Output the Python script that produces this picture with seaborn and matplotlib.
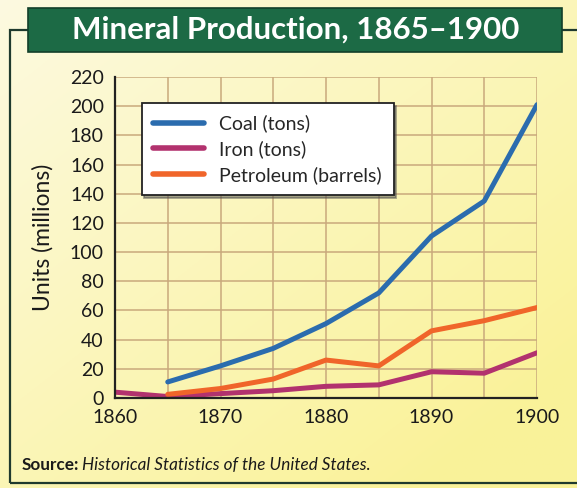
import numpy as np
import pandas as pd
import matplotlib.pyplot as plt
import matplotlib.patches as mpatches
import seaborn as sns

YEARS = [1860, 1865, 1870, 1875, 1880, 1885, 1890, 1895, 1900]
COAL = [np.nan, 11, 22, 34, 51, 72, 111, 135, 201]
IRON = [4, 1, 3, 5, 8, 9, 18, 17, 31]
PETROLEUM = [np.nan, 2.5, 6.5, 13, 26, 22, 46, 53, 62]

SERIES = ["Coal (tons)", "Iron (tons)", "Petroleum (barrels)"]
PALETTE = {
    "Coal (tons)": "#2b6cae",
    "Iron (tons)": "#b2326e",
    "Petroleum (barrels)": "#f0652a",
}
Y_TICKS = list(range(0, 221, 20))
X_TICKS = [1860, 1870, 1880, 1890, 1900]

df = pd.DataFrame({"year": YEARS, SERIES[0]: COAL, SERIES[1]: IRON, SERIES[2]: PETROLEUM})
long = df.melt(id_vars="year", var_name="series", value_name="units").dropna()

sns.set_theme(style="white")
plt.rcParams["font.family"] = ["Lato", "DejaVu Sans"]

fig = plt.figure(figsize=(5.77, 4.88), dpi=100)
W, H = 577, 488

# page background: cream to yellow gradient
bg = fig.add_axes([0, 0, 1, 1], zorder=-10)
grad = np.linspace(0, 1, 256)
gx, gy = np.meshgrid(grad, grad)
t = np.clip(0.55 * gx + 0.6 * gy, 0, 1)
c0 = np.array([0.99, 0.98, 0.88])
c1 = np.array([0.98, 0.95, 0.60])
img = c0[None, None, :] * (1 - t[..., None]) + c1[None, None, :] * t[..., None]
bg.imshow(img, extent=[0, 1, 0, 1], aspect="auto", origin="upper")
bg.set_axis_off()

# outer frame
fig.add_artist(mpatches.Rectangle((10 / W, 5 / H), 580 / W, 453 / H,
                                  transform=fig.transFigure, fill=False,
                                  edgecolor="#1f3a2e", lw=1.6))

# title banner
fig.add_artist(mpatches.Rectangle((28 / W, (H - 52) / H), 534 / W, 44 / H,
                                  transform=fig.transFigure, facecolor="#1c6a45",
                                  edgecolor="#123f2a", lw=1.2))
fig.text(296 / W, (H - 30) / H, "Mineral Production, 1865\u20131900", color="white",
         fontsize=22.5, fontweight="bold", ha="center", va="center")

ax = fig.add_axes([115 / W, (H - 398) / H, 422 / W, 321 / H])
ax.set_facecolor("none")
sns.lineplot(data=long, x="year", y="units", hue="series", hue_order=SERIES,
             palette=PALETTE, lw=3.6, ax=ax, legend=True)

ax.set_xlim(1860, 1900)
ax.set_ylim(0, 220)
ax.set_xticks(np.arange(1860, 1901, 5))
ax.set_xticklabels([str(y) if y in X_TICKS else "" for y in range(1860, 1901, 5)])
ax.set_yticks(Y_TICKS)
ax.grid(True, color="#c9a97c", lw=1.1)
for s in ["top", "right"]:
    ax.spines[s].set_visible(False)
for s in ["left", "bottom"]:
    ax.spines[s].set_color("#222222")
    ax.spines[s].set_linewidth(1.6)
ax.tick_params(axis="both", labelsize=14, colors="#1a1a1a", length=0, pad=8)
ax.set_xlabel("")
ax.set_ylabel("Units (millions)", fontsize=16.5, color="#1a1a1a", labelpad=12)

leg = ax.legend(loc="upper left", bbox_to_anchor=(0.04, 0.95), fontsize=14,
                frameon=True, fancybox=False, shadow=True, borderpad=0.6,
                handlelength=2.6, labelspacing=0.4, title=None)
leg.get_frame().set_edgecolor("#222222")
leg.get_frame().set_linewidth(1.3)
for line in leg.get_lines():
    line.set_linewidth(4)

fig.text(22 / W, (H - 465) / H, "Source:", fontsize=12.3, fontweight="bold",
         color="#1a1a1a", va="center")
fig.text(82 / W, (H - 465) / H, "Historical Statistics of the United States.",
         fontsize=12.3, fontstyle="italic", color="#1a1a1a", va="center")

fig.savefig("out.png", dpi=100)
